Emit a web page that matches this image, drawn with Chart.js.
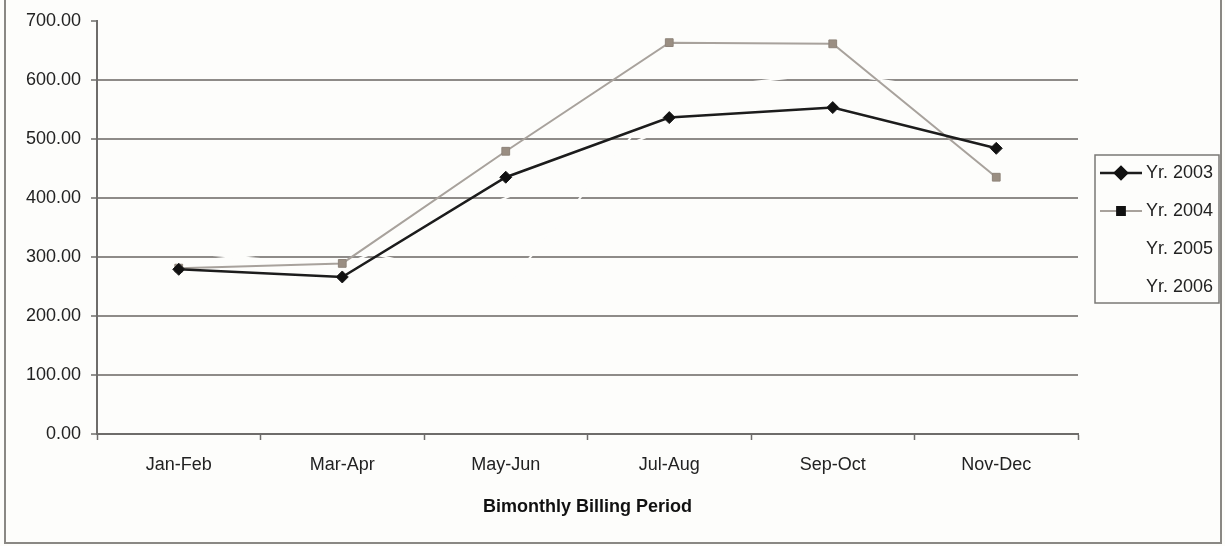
<!DOCTYPE html>
<html>
<head>
<meta charset="utf-8">
<title>Bimonthly Billing Period</title>
<script src="https://cdn.jsdelivr.net/npm/chart.js@4/dist/chart.umd.min.js"></script>
<style>
    html, body { margin: 0; padding: 0; background: #fdfdfb; }
    #wrap { position: relative; width: 1225px; height: 546px; }
</style>
</head>
<body>
<div id="wrap"><canvas id="billingChart"></canvas></div>
<script>
// Chart data
const periods = ['Jan-Feb', 'Mar-Apr', 'May-Jun', 'Jul-Aug', 'Sep-Oct', 'Nov-Dec'];
const yr2003 = [279, 266, 435, 536, 553, 484];
const yr2004 = [281, 289, 479, 663, 661, 435];
// 2005 and 2006 are drawn in white in the original, only seen where they cut the grid
const yr2005 = [290, 318, 250, 580, 612, 571];
const yr2006 = [308, 285, 400, 520, 545, 505];
const yTicks = [0, 100, 200, 300, 400, 500, 600, 700];

const FONT = 'Liberation Sans, Arial, sans-serif';

// frame round the whole picture
const framePlugin = {
    id: 'frame',
    beforeDraw(chart) {
        const ctx = chart.ctx;
        ctx.save();
        ctx.fillStyle = '#fdfdfb';
        ctx.fillRect(0, 0, chart.width, chart.height);
        ctx.strokeStyle = '#8a8884';
        ctx.lineWidth = 2;
        ctx.strokeRect(5, -2, 1216, 545);
        ctx.restore();
    }
};

// legend box on the right: line sample with marker, then label
const legendPlugin = {
    id: 'boxLegend',
    afterDraw(chart) {
        const ctx = chart.ctx;
        const box = { x: 1095, y: 155, w: 124, h: 148 };
        ctx.save();
        ctx.strokeStyle = '#7a7876';
        ctx.lineWidth = 1.5;
        ctx.strokeRect(box.x, box.y, box.w, box.h);
        ctx.font = '18px ' + FONT;
        ctx.textBaseline = 'middle';
        ctx.fillStyle = '#222';
        chart.data.datasets.forEach((ds, i) => {
            const y = box.y + 18 + i * 38;
            ctx.strokeStyle = ds.borderColor;
            ctx.lineWidth = ds.borderWidth;
            ctx.beginPath();
            ctx.moveTo(1100, y);
            ctx.lineTo(1142, y);
            ctx.stroke();
            if (ds.pointRadius > 0) {
                ctx.fillStyle = ds.legendMarker;
                ctx.strokeStyle = ds.legendMarker;
                Chart.helpers.drawPoint(ctx, {
                    pointStyle: ds.pointStyle,
                    radius: ds.pointRadius,
                    borderWidth: 1
                }, 1121, y);
            }
            ctx.fillStyle = '#222';
            ctx.fillText(ds.label, 1146, y);
        });
        ctx.restore();
    }
};

const ctx = document.getElementById('billingChart').getContext('2d');
const chart = new Chart(ctx, {
    type: 'line',
    data: {
        labels: periods,
        datasets: [{
            label: 'Yr. 2003',
            data: yr2003,
            borderColor: '#1c1c1c',
            backgroundColor: '#111',
            legendMarker: '#111',
            borderWidth: 2.5,
            pointStyle: 'rectRot',
            pointRadius: 6,
            pointBorderWidth: 1,
            tension: 0
        }, {
            label: 'Yr. 2004',
            data: yr2004,
            borderColor: '#a8a29c',
            backgroundColor: '#9a8e82',
            pointBorderColor: '#8e847a',
            legendMarker: '#111',
            borderWidth: 2,
            pointStyle: 'rect',
            pointRadius: 5.5,
            pointBorderWidth: 1,
            tension: 0
        }, {
            label: 'Yr. 2005',
            data: yr2005,
            borderColor: '#fdfdfb',
            backgroundColor: '#fdfdfb',
            borderWidth: 2,
            pointRadius: 0,
            tension: 0
        }, {
            label: 'Yr. 2006',
            data: yr2006,
            borderColor: '#fdfdfb',
            backgroundColor: '#fdfdfb',
            borderWidth: 2,
            pointRadius: 0,
            tension: 0
        }]
    },
    options: {
        responsive: true,
        maintainAspectRatio: false,
        animation: false,
        layout: { padding: { left: 0, right: 147, top: 20, bottom: 0 } },
        plugins: {
            legend: { display: false },
            tooltip: { enabled: false }
        },
        scales: {
            x: {
                offset: true,
                grid: {
                    offset: true,
                    drawOnChartArea: false,
                    drawTicks: true,
                    tickLength: 6,
                    tickColor: '#6e6c6a',
                    tickWidth: 1.5
                },
                border: { color: '#6e6c6a', width: 2 },
                ticks: {
                    color: '#222',
                    padding: 14,
                    font: { family: FONT, size: 18 },
                    maxRotation: 0
                },
                title: {
                    display: true,
                    text: 'Bimonthly Billing Period',
                    color: '#111',
                    font: { family: FONT, size: 18, weight: 'bold' },
                    padding: { top: 0, bottom: 28 }
                },
                afterFit(scale) { scale.height = 112; }
            },
            y: {
                min: 0,
                max: 700,
                afterBuildTicks(scale) {
                    scale.ticks = yTicks.map(v => ({ value: v }));
                },
                grid: {
                    color: c => (c.tick && c.tick.value === 700) ? 'rgba(0,0,0,0)' : '#8e8b88',
                    lineWidth: 2,
                    drawTicks: true,
                    tickLength: 6,
                    tickColor: '#6e6c6a',
                    tickWidth: 1.5
                },
                border: { color: '#6e6c6a', width: 2 },
                ticks: {
                    color: '#222',
                    padding: 10,
                    font: { family: FONT, size: 18 },
                    callback: v => Number(v).toFixed(2)
                },
                afterFit(scale) { scale.width = 97; }
            }
        }
    },
    plugins: [framePlugin, legendPlugin]
});
</script>
</body>
</html>
